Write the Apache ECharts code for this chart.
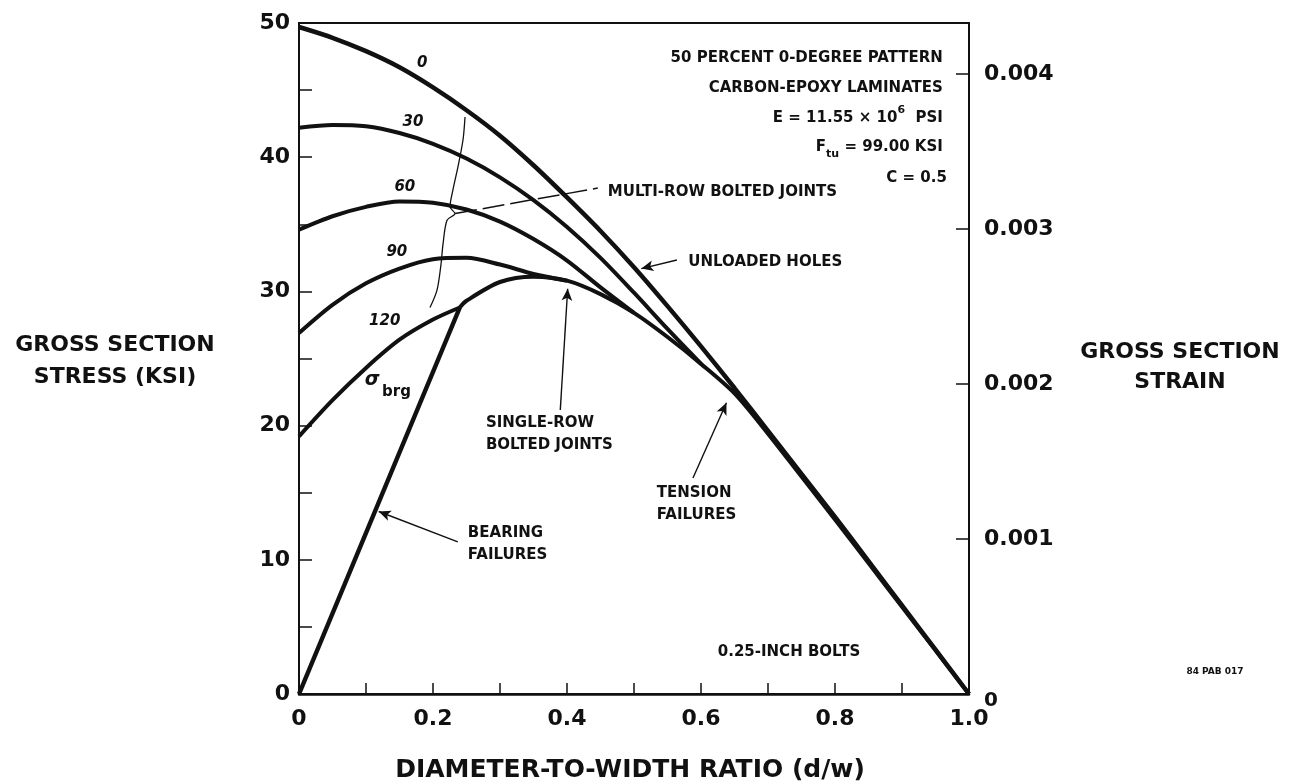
<!DOCTYPE html>
<html>
<head>
<meta charset="utf-8">
<script src="https://cdn.jsdelivr.net/npm/echarts@6/dist/echarts.min.js"></script>
<style>
  html, body { margin: 0; padding: 0; background: #fff; }
  #chart { width: 1289px; height: 782px; }
</style>
</head>
<body>
<div id="chart"></div>
<script>
// diameter-to-width ratio grid
const dw = [0, 0.05, 0.1, 0.15, 0.2, 0.25, 0.3, 0.35, 0.4, 0.45, 0.5, 0.55, 0.6, 0.65, 0.7, 0.75, 0.8, 0.85, 0.9, 0.95, 1.0];
// gross section stress (ksi), unloaded holes (curve "0")
const unloaded = [49.7, 48.9, 47.9, 46.7, 45.2, 43.5, 41.6, 39.4, 37.0, 34.5, 31.8, 28.9, 25.9, 22.8, 19.6, 16.4, 13.2, 9.9, 6.6, 3.3, 0];
// multi-row bolted joints, bearing stress 30 / 60 / 90 / 120 (same dw grid, until they meet the envelope)
const brg30 = [42.2, 42.4, 42.3, 41.8, 41.0, 39.9, 38.5, 36.8, 34.8, 32.5, 29.9, 27.2, 24.6];
const brg60 = [34.6, 35.6, 36.3, 36.7, 36.6, 36.1, 35.2, 33.9, 32.3, 30.3, 28.4];
const brg90 = [26.9, 29.0, 30.6, 31.7, 32.4, 32.5, 32.0, 31.3, 30.8];
const brg120X = [0, 0.05, 0.1, 0.15, 0.2, 0.24];
const brg120 = [19.2, 21.9, 24.3, 26.4, 27.9, 28.8];
// single-row bolted joints / tension failure envelope
const singleRowX = [0.24, 0.25, 0.3, 0.35, 0.4, 0.45, 0.5, 0.55, 0.6, 0.65, 0.7, 0.75, 0.8, 0.85, 0.9, 0.95, 1.0];
const singleRow = [28.8, 29.3, 30.7, 31.1, 30.8, 29.8, 28.4, 26.6, 24.6, 22.4, 19.4, 16.2, 13.0, 9.75, 6.5, 3.25, 0];
// bearing failure line
const bearingX = [0, 0.24];
const bearingY = [0, 28.8];
// curly brace grouping the multi-row curves
const braceX = [0.2478, 0.2448, 0.2373, 0.2299, 0.2254, 0.2328, 0.2209, 0.2149, 0.2119, 0.2060, 0.1955];
const braceY = [43.0, 41.3, 39.3, 37.6, 36.3, 35.8, 35.3, 33.5, 32.0, 30.1, 28.8];

// axis ticks
const xTicks = [0, 0.2, 0.4, 0.6, 0.8, 1.0];
const stressMax = 50;
const modulusKsi = 11550; // E = 11.55e6 psi
const strainMax = stressMax / modulusKsi;

const INK = '#111';
const FONT = '"DejaVu Sans", sans-serif';

const zip = (xs, ys) => ys.map((y, i) => [xs[i], y]);

const chart = echarts.init(document.getElementById('chart'));

const curve = (data, width, smooth) => ({
  type: 'line',
  data: data,
  xAxisIndex: 0,
  yAxisIndex: 0,
  showSymbol: false,
  smooth: smooth,
  silent: true,
  lineStyle: { color: INK, width: width },
  z: 3
});

const axisLabel = {
  color: INK,
  fontFamily: FONT,
  fontWeight: 'bold',
  fontSize: 22
};

const option = {
  animation: false,
  backgroundColor: '#fff',
  grid: {
    left: 299,
    right: 320,
    top: 23,
    bottom: 88,
    show: true,
    borderColor: INK,
    borderWidth: 2
  },
  xAxis: {
    type: 'value',
    min: 0,
    max: 1,
    interval: 0.1,
    axisLine: { lineStyle: { color: INK, width: 2.5 } },
    axisTick: { inside: true, length: 11, lineStyle: { color: INK, width: 1.5 } },
    splitLine: { show: false },
    axisLabel: Object.assign({}, axisLabel, {
      margin: 14,
      formatter: (v) => {
        const t = xTicks.find(k => Math.abs(k - v) < 1e-6);
        if (t === undefined) return '';
        return t === 0 ? '0' : t.toFixed(1);
      }
    })
  },
  yAxis: [
    {
      type: 'value',
      position: 'left',
      min: 0,
      max: stressMax,
      interval: 5,
      axisLine: { show: true, lineStyle: { color: INK, width: 2 } },
      axisTick: { show: true, inside: true, length: 13, lineStyle: { color: INK, width: 1.5 } },
      splitLine: { show: false },
      axisLabel: Object.assign({}, axisLabel, {
        margin: 9,
        formatter: (v) => (Math.round(v) % 10 === 0 ? String(Math.round(v)) : '')
      })
    },
    {
      type: 'value',
      position: 'right',
      min: 0,
      max: strainMax,
      interval: 0.001,
      axisLine: { show: true, lineStyle: { color: INK, width: 2 } },
      axisTick: { show: true, inside: true, length: 13, lineStyle: { color: INK, width: 1.5 } },
      splitLine: { show: false },
      axisLabel: Object.assign({}, axisLabel, {
        margin: 15,
        showMaxLabel: false,
        formatter: (v) => (v === 0 ? '{z|0}' : v.toFixed(3)),
        rich: {
          z: { color: INK, fontFamily: FONT, fontWeight: 'bold', fontSize: 20, padding: [14, 0, 0, 0] }
        }
      })
    }
  ],
  series: [
    curve(zip(dw, unloaded), 4.5, 0.3),
    curve(zip(dw, brg30), 4, 0.3),
    curve(zip(dw, brg60), 4, 0.3),
    curve(zip(dw, brg90), 4, 0.3),
    curve(zip(brg120X, brg120), 4, 0.3),
    curve(zip(singleRowX, singleRow), 4, 0.3),
    curve(zip(bearingX, bearingY), 4.5, false),
    // brace
    {
      type: 'line',
      data: zip(braceX, braceY),
      showSymbol: false,
      smooth: 0.3,
      silent: true,
      lineStyle: { color: INK, width: 1.3 }
    },
    // leader to "MULTI-ROW BOLTED JOINTS"
    {
      type: 'line',
      data: [[0.233, 35.8], [0.446, 37.7]],
      showSymbol: false,
      silent: true,
      lineStyle: { color: INK, width: 1.5, type: [22, 6] }
    },
    // annotation arrows
    {
      type: 'line',
      data: [],
      silent: true,
      markLine: {
        silent: true,
        symbol: ['none', 'arrow'],
        symbolSize: [8, 12],
        label: { show: false },
        lineStyle: { color: INK, width: 1.4, type: 'solid' },
        data: [
          [{ coord: [0.564, 32.34] }, { coord: [0.511, 31.7] }],
          [{ coord: [0.390, 21.16] }, { coord: [0.401, 30.2] }],
          [{ coord: [0.588, 16.10] }, { coord: [0.638, 21.7] }],
          [{ coord: [0.237, 11.33] }, { coord: [0.119, 13.6] }]
        ]
      }
    }
  ]
};

chart.setOption(option);

// ---- annotations ----
const P = (x, y) => chart.convertToPixel({ seriesIndex: 0 }, [x, y]);

const text = (str, pos, opts) => {
  const o = Object.assign({ size: 15, align: 'left', vAlign: 'middle', style: 'normal', lh: 22 }, opts || {});
  return {
    type: 'text',
    x: pos[0],
    y: pos[1],
    silent: true,
    z: 10,
    style: {
      text: str,
      fill: INK,
      fontFamily: FONT,
      fontWeight: 'bold',
      fontStyle: o.style,
      fontSize: o.size,
      lineHeight: o.lh,
      align: o.align,
      verticalAlign: o.vAlign,
      textAlign: o.align,
      textVerticalAlign: o.vAlign,
      rich: o.rich
    }
  };
};

const richBase = { fill: INK, color: INK, fontFamily: FONT, fontWeight: 'bold' };
const specRich = {
  m: Object.assign({}, richBase, { fontSize: 15, lineHeight: 26 }),
  p: Object.assign({}, richBase, { fontSize: 11, lineHeight: 18, verticalAlign: 'top' }),
  b: Object.assign({}, richBase, { fontSize: 11, lineHeight: 18, verticalAlign: 'bottom' })
};

const graphic = [
  // spec block
  text('50 PERCENT 0-DEGREE PATTERN', P(0.961, 47.39), { align: 'right' }),
  text('CARBON-EPOXY LAMINATES', P(0.961, 45.16), { align: 'right' }),
  text('{m|E = 11.55 × 10}{p|6}{m|  PSI}', P(0.961, 42.92), { align: 'right', rich: specRich }),
  text('{m|F}{b|tu}{m| = 99.00 KSI}', P(0.961, 40.76), { align: 'right', rich: specRich }),
  text('C = 0.5', P(0.967, 38.45), { align: 'right' }),
  // callouts
  text('MULTI-ROW BOLTED JOINTS', P(0.461, 37.41)),
  text('UNLOADED HOLES', P(0.581, 32.19)),
  text('SINGLE-ROW\nBOLTED JOINTS', P(0.279, 19.37)),
  text('TENSION\nFAILURES', P(0.534, 14.16)),
  text('BEARING\nFAILURES', P(0.252, 11.18)),
  text('0.25-INCH BOLTS', P(0.625, 3.13)),
  // curve labels
  text('0', P(0.184, 47.0), { align: 'center', style: 'italic' }),
  text('30', P(0.170, 42.6), { align: 'center', style: 'italic' }),
  text('60', P(0.158, 37.8), { align: 'center', style: 'italic' }),
  text('90', P(0.146, 32.9), { align: 'center', style: 'italic' }),
  text('120', P(0.128, 27.8), { align: 'center', style: 'italic' }),
  text('σ', P(0.109, 23.4), { align: 'center', style: 'italic', size: 19 }),
  text('brg', P(0.124, 22.5), { size: 15 }),
  // axis titles
  text('GROSS SECTION\nSTRESS (KSI)', [115, 361], { align: 'center', size: 22, lh: 32 }),
  text('GROSS SECTION\nSTRAIN', [1180, 367], { align: 'center', size: 22, lh: 30 }),
  text('DIAMETER-TO-WIDTH RATIO (d/w)', [630, 770], { align: 'center', size: 25 }),
  text('84 PAB 017', [1215, 672], { align: 'center', size: 9, style: 'normal' })
];

chart.setOption({ graphic: graphic });
</script>
</body>
</html>
